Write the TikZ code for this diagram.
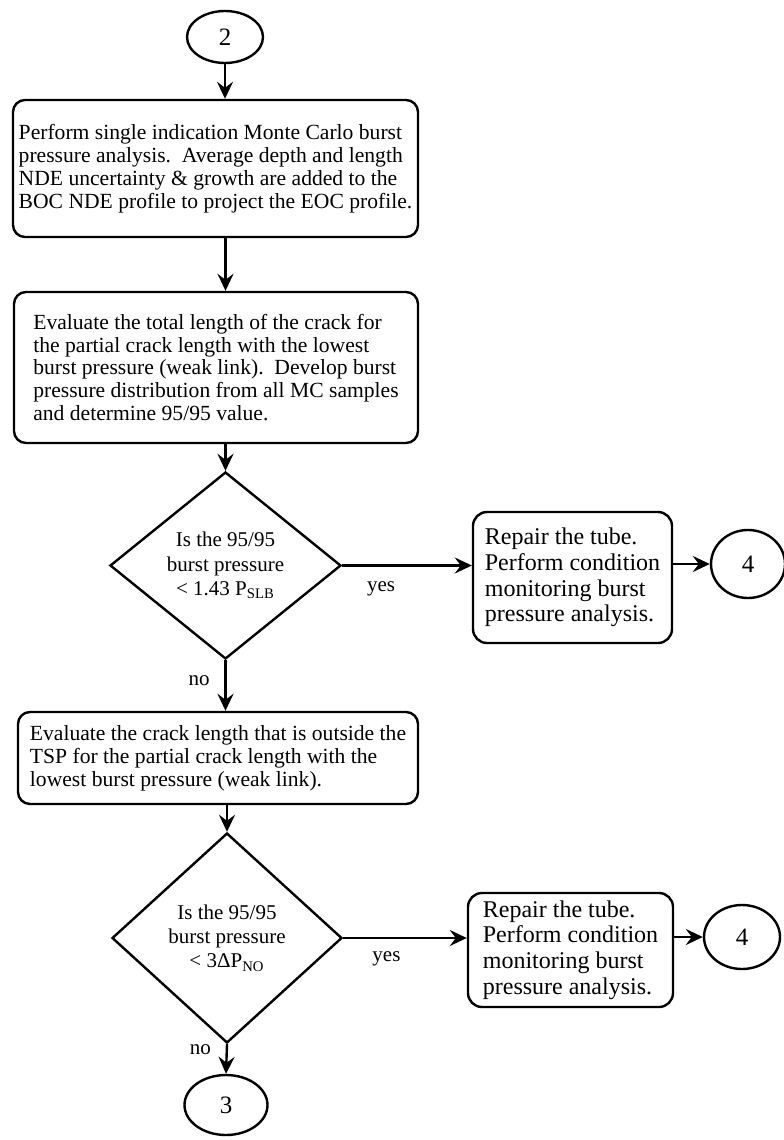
\documentclass[tikz,border=0pt]{standalone}
\usepackage{fontspec}
\setmainfont{Liberation Serif}
\usetikzlibrary{shapes.geometric,arrows.meta}
\tikzset{>={Stealth[length=8.5pt,width=8pt,inset=3pt]}}

\begin{document}
\begin{tikzpicture}[x=0.5pt,y=-0.5pt,line width=1.2pt,
    stepbox/.style={draw, rounded corners=6pt, align=left, inner sep=0pt,
        font=\fontsize{10.8}{11.4}\selectfont},
    repbox/.style={draw, rounded corners=7pt, align=left, inner sep=0pt,
        font=\fontsize{12}{12.8}\selectfont},
    query/.style={draw, diamond, align=center, inner sep=0pt,
        font=\fontsize{10.5}{12.2}\selectfont},
    onpage/.style={draw, ellipse, inner sep=0pt, font=\fontsize{12.5}{13}\selectfont},
    lbl/.style={font=\fontsize{10.5}{12}\selectfont}]
    \useasboundingbox (0,0) rectangle (783,1140);
    % left column
    \node[onpage, minimum width=38pt, minimum height=26pt] (on2) at (225,37) {2};
    \node[stepbox, minimum width=202.5pt, minimum height=68.5pt] (mc) at (215.5,168.5)
        {Perform single indication Monte Carlo burst\\
         pressure analysis.\ \ Average depth and length\\
         NDE uncertainty \& growth are added to the\\
         BOC NDE profile to project the EOC profile.};
    \node[stepbox, minimum width=202pt, minimum height=75.5pt] (tot) at (216,367.5)
        {Evaluate the total length of the crack for\\
         the partial crack length with the lowest\\
         burst pressure (weak link).\ \ Develop burst\\
         pressure distribution from all MC samples\\
         and determine 95/95 value.};
    \node[query, minimum width=115.5pt, minimum height=93.5pt] (q1) at (225.5,565.5)
        {Is the 95/95\\ burst pressure\\ < 1.43 P\textsubscript{SLB}};
    \node[stepbox, minimum width=200pt, minimum height=46pt] (tsp) at (218,758)
        {Evaluate the crack length that is outside the\\
         TSP for the partial crack length with the\\
         lowest burst pressure (weak link).};
    \node[query, minimum width=115pt, minimum height=105pt] (q2) at (227,938)
        {Is the 95/95\\ burst pressure\\ < 3ΔP\textsubscript{NO}};
    \node[onpage, minimum width=41.5pt, minimum height=30pt] (on3) at (226,1105) {3};
    % right column
    \node[repbox, minimum width=99.5pt, minimum height=65.5pt] (rep1) at (572.5,577.5)
        {Repair the tube.\\ Perform condition\\ monitoring burst\\ pressure analysis.};
    \node[onpage, minimum width=37pt, minimum height=34pt] (on4a) at (748,564) {4};
    \node[repbox, minimum width=102.5pt, minimum height=57pt] (rep2) at (570.5,950)
        {Repair the tube.\\ Perform condition\\ monitoring burst\\ pressure analysis.};
    \node[onpage, minimum width=38pt, minimum height=32pt] (on4b) at (742,937) {4};

    \draw[->] (on2.south) -- (on2.south |- mc.north);
    \draw[->] (mc.south -| q1.north) -- (tot.north -| q1.north);
    \draw[->] (tot.south -| q1.north) -- (q1.north);
    \draw[->] (q1.east) -- (q1.east -| rep1.west) node[lbl, pos=.3, below=4pt] {yes};
    \draw[->] (rep1.east |- on4a) -- (on4a.west);
    \draw[->] (q1.south) -- (q1.south |- tsp.north) node[lbl, pos=.4, left=4pt] {no};
    \draw[->] (tsp.south -| q2.north) -- (q2.north);
    \draw[->] (q2.east) -- (q2.east -| rep2.west) node[lbl, pos=.35, below=3pt] {yes};
    \draw[->] (rep2.east |- on4b) -- (on4b.west);
    \draw[->] (q2.south) -- (on3.north) node[lbl, pos=.2, left=4pt] {no};
\end{tikzpicture}
\end{document}
